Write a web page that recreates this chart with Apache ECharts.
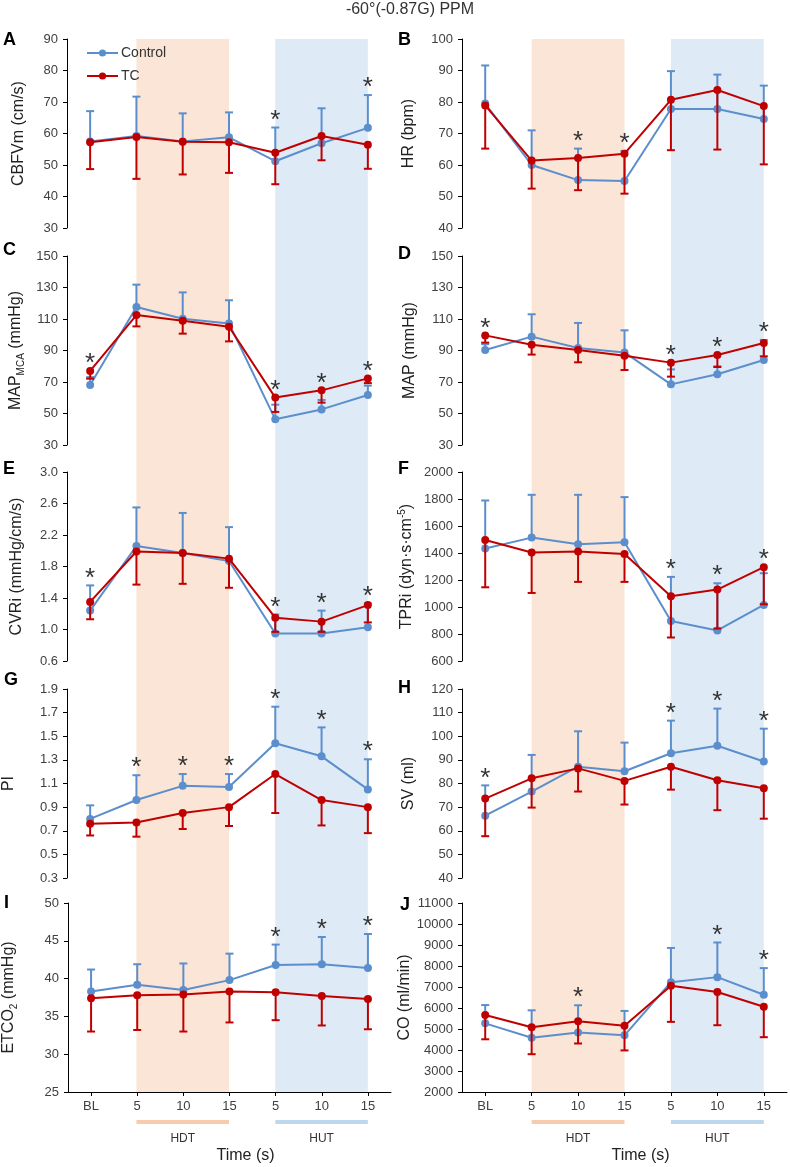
<!DOCTYPE html>
<html><head><meta charset="utf-8">
<script src="https://cdn.jsdelivr.net/npm/echarts@6/dist/echarts.min.js"></script>
<style>html,body{margin:0;padding:0;background:#fff}#c{width:790px;height:1167px}</style>
</head><body><div id="c"></div>
<script>
// ---------- DATA ----------
const timePoints = ['BL', 'HDT 5', 'HDT 10', 'HDT 15', 'HUT 5', 'HUT 10', 'HUT 15'];
const tickLabels = ['BL', '5', '10', '15', '5', '10', '15'];
const phaseNames = ['HDT', 'HUT'];
const phaseStart = ['HDT 5', 'HUT 5'];
const phaseEnd = ['HDT 15', 'HUT 15'];
const seriesNames = ['Control', 'TC'];

// A: CBFVm
const cbfvCtrl = [57.5, 59.2, 57.5, 58.8, 51.2, 56.9, 61.8];
const cbfvCtrlSD = [9.6, 12.5, 8.9, 7.9, 10.7, 11.1, 10.4];
const cbfvTC = [57.2, 58.9, 57.4, 57.2, 53.9, 59.2, 56.4];
const cbfvTCSD = [8.5, 13.3, 10.4, 9.7, 10.0, 7.7, 7.6];
const cbfvSig = [0, 0, 0, 0, 1, 0, 1];
// B: HR
const hrCtrl = [79.5, 60.0, 55.2, 54.9, 77.8, 77.8, 74.6];
const hrCtrlSD = [12.1, 11.0, 10.0, 9.6, 12.0, 10.9, 10.6];
const hrTC = [78.9, 61.4, 62.2, 63.6, 80.7, 83.8, 78.7];
const hrTCSD = [13.7, 8.9, 10.2, 12.7, 16.0, 18.9, 18.5];
const hrSig = [0, 0, 1, 1, 0, 0, 0];
// C: MAP MCA
const mapmcaCtrl = [68.1, 117.6, 110.2, 107.2, 46.3, 52.6, 61.7];
const mapmcaCtrlSD = [5.0, 14.2, 16.7, 14.7, 9.3, 6.0, 6.0];
const mapmcaTC = [77.0, 112.5, 108.9, 105.1, 60.1, 64.7, 72.3];
const mapmcaTCSD = [4.9, 7.2, 8.2, 9.3, 9.1, 7.8, 3.0];
const mapmcaSig = [1, 0, 0, 0, 1, 1, 1];
// D: MAP
const mapCtrl = [90.3, 98.8, 91.6, 88.8, 68.5, 74.9, 84.0];
const mapCtrlSD = [3.7, 14.2, 15.9, 14.0, 9.5, 5.1, 12.7];
const mapTC = [99.6, 93.7, 90.3, 86.7, 82.3, 87.1, 94.8];
const mapTCSD = [4.6, 6.3, 7.8, 9.1, 8.9, 7.6, 8.5];
const mapSig = [1, 0, 0, 0, 1, 1, 1];
// E: CVRi
const cvrCtrl = [1.24, 2.06, 1.97, 1.87, 0.95, 0.95, 1.03];
const cvrCtrlSD = [0.32, 0.49, 0.51, 0.43, 0.24, 0.29, 0.30];
const cvrTC = [1.35, 1.99, 1.97, 1.90, 1.15, 1.10, 1.31];
const cvrTCSD = [0.22, 0.42, 0.39, 0.37, 0.18, 0.13, 0.22];
const cvrSig = [1, 0, 0, 0, 1, 1, 1];
// F: TPRi
const tprCtrl = [1434, 1514, 1464, 1479, 896, 826, 1015];
const tprCtrlSD = [355, 317, 367, 335, 327, 350, 235];
const tprTC = [1496, 1404, 1412, 1392, 1079, 1129, 1295];
const tprTCSD = [350, 300, 226, 206, 305, 289, 275];
const tprSig = [0, 0, 0, 0, 1, 1, 1];
// G: PI
const piCtrl = [0.80, 0.96, 1.08, 1.07, 1.44, 1.33, 1.05];
const piCtrlSD = [0.115, 0.21, 0.10, 0.11, 0.31, 0.245, 0.255];
const piTC = [0.76, 0.77, 0.85, 0.90, 1.18, 0.96, 0.90];
const piTCSD = [0.10, 0.12, 0.135, 0.16, 0.33, 0.215, 0.22];
const piSig = [0, 1, 1, 1, 1, 1, 1];
// H: SV
const svCtrl = [66.4, 76.6, 87.1, 85.2, 92.8, 96.0, 89.3];
const svCtrlSD = [12.8, 15.5, 15.0, 12.1, 13.8, 15.7, 13.9];
const svTC = [73.6, 82.2, 86.4, 81.1, 87.1, 81.4, 78.0];
const svTCSD = [15.9, 12.4, 9.8, 10.0, 9.7, 12.7, 12.9];
const svSig = [1, 0, 0, 0, 1, 1, 1];
// I: ETCO2
const etco2Ctrl = [38.3, 39.2, 38.5, 39.8, 41.8, 41.9, 41.4];
const etco2CtrlSD = [2.9, 2.7, 3.5, 3.5, 2.7, 3.6, 4.5];
const etco2TC = [37.4, 37.8, 37.9, 38.3, 38.2, 37.7, 37.3];
const etco2TCSD = [4.4, 4.6, 4.9, 4.1, 3.7, 3.9, 4.0];
const etco2Sig = [0, 0, 0, 0, 1, 1, 1];
// J: CO
const coCtrl = [5270, 4580, 4830, 4700, 7230, 7470, 6630];
const coCtrlSD = [870, 1310, 1300, 1160, 1630, 1650, 1270];
const coTC = [5670, 5080, 5370, 5150, 7060, 6760, 6060];
const coTCSD = [1160, 1280, 1060, 1170, 1720, 1580, 1450];
const coSig = [0, 0, 1, 0, 0, 1, 1];

// y-axis ticks: [min, max, interval]
const panelLetters = ['A', 'B', 'C', 'D', 'E', 'F', 'G', 'H', 'I', 'J'];
const panelNames = [
  'CBFVm (cm/s)', 'HR (bpm)',
  '{t|MAP}{s|MCA}{t| (mmHg)}', 'MAP (mmHg)',
  'CVRi (mmHg/cm/s)', '{t|TPRi (dyn·s·cm}{p|-5}{t|)}',
  'PI', 'SV (ml)',
  '{t|ETCO}{s|2}{t| (mmHg)}', 'CO (ml/min)'
];
const yTicks = [
  [30, 90, 10], [40, 100, 10],
  [30, 150, 20], [30, 150, 20],
  [0.6, 3.0, 0.4], [600, 2000, 200],
  [0.3, 1.9, 0.2], [40, 120, 10],
  [25, 50, 5], [2000, 11000, 1000]
];
const yDecimals = [0, 0, 0, 0, 1, 0, 1, 0, 0, 0];

const panelData = [
  [cbfvCtrl, cbfvCtrlSD, cbfvTC, cbfvTCSD, cbfvSig],
  [hrCtrl, hrCtrlSD, hrTC, hrTCSD, hrSig],
  [mapmcaCtrl, mapmcaCtrlSD, mapmcaTC, mapmcaTCSD, mapmcaSig],
  [mapCtrl, mapCtrlSD, mapTC, mapTCSD, mapSig],
  [cvrCtrl, cvrCtrlSD, cvrTC, cvrTCSD, cvrSig],
  [tprCtrl, tprCtrlSD, tprTC, tprTCSD, tprSig],
  [piCtrl, piCtrlSD, piTC, piTCSD, piSig],
  [svCtrl, svCtrlSD, svTC, svTCSD, svSig],
  [etco2Ctrl, etco2CtrlSD, etco2TC, etco2TCSD, etco2Sig],
  [coCtrl, coCtrlSD, coTC, coTCSD, coSig]
];

// ---------- LAYOUT / STYLE ----------
const FONT = '"Liberation Sans", Arial, sans-serif';
const BLUE = '#5b8ecc';
const RED = '#c00000';
const BAND = ['#fbe5d6', '#deebf7'];
const BAR = ['#f8cbad', '#bdd7ee'];
const colLeft = [67, 462];
const colWidth = [324, 325];
const rowTops = [39, 256, 472, 689, 903];
const panelH = 189;
const nameGaps = [40, 45, 41, 44, 42, 45, 50, 45, 49, 47];
const letterPos = [[3, 40], [398, 40], [3, 250], [398, 254], [3, 469], [398, 469], [4, 680], [398, 688], [4, 903], [400, 905]];

const grids = [], xAxes = [], yAxes = [], series = [], graphics = [];

panelData.forEach((d, k) => {
  const col = k % 2, row = Math.floor(k / 2);
  const bottom = row === 4;
  grids.push({ left: colLeft[col], width: colWidth[col], top: rowTops[row], height: panelH });
  xAxes.push({
    type: 'category', gridIndex: k, data: timePoints, boundaryGap: true,
    show: bottom,
    axisLine: { show: bottom, lineStyle: { color: '#000', width: 1 } },
    axisTick: { show: bottom, alignWithLabel: true, length: 4, lineStyle: { color: '#000' } },
    axisLabel: { show: bottom, margin: 8, fontSize: 13, fontFamily: FONT, color: '#404040',
      formatter: (v, i) => tickLabels[i] },
    name: bottom ? 'Time (s)' : '', nameLocation: 'middle', nameGap: 56,
    nameTextStyle: { fontSize: 16, fontFamily: FONT, color: '#222', padding: [0, 0, 0, 32] }
  });
  const yt = yTicks[k];
  yAxes.push({
    type: 'value', gridIndex: k, min: yt[0], max: yt[1], interval: yt[2],
    axisLine: { show: true, lineStyle: { color: '#000', width: 1 } },
    axisTick: { show: true, length: 4, lineStyle: { color: '#000' } },
    splitLine: { show: false },
    axisLabel: { margin: 9, fontSize: 13, fontFamily: FONT, color: '#404040',
      formatter: v => Number(v).toFixed(yDecimals[k]) },
    name: panelNames[k], nameLocation: 'middle', nameGap: nameGaps[k],
    nameTextStyle: { fontSize: 16, fontFamily: FONT, color: '#222',
      rich: {
        t: { fontSize: 16, fontFamily: FONT, color: '#222', lineHeight: 20 },
        s: { fontSize: 10, fontFamily: FONT, color: '#222', lineHeight: 20, verticalAlign: 'bottom' },
        p: { fontSize: 10, fontFamily: FONT, color: '#222', lineHeight: 20, verticalAlign: 'top' }
      } }
  });

  const [ctrl, ctrlSD, tc, tcSD, sig] = d;
  const errSeries = (means, sds, dir, color, z) => ({
    type: 'custom', xAxisIndex: k, yAxisIndex: k, z: z, silent: true,
    data: means.map((m, i) => [i, m, m + dir * sds[i]]),
    renderItem: (params, api) => {
      const p0 = api.coord([api.value(0), api.value(1)]);
      const p1 = api.coord([api.value(0), api.value(2)]);
      const hw = 4;
      return { type: 'group', children: [
        { type: 'line', shape: { x1: p0[0], y1: p0[1], x2: p1[0], y2: p1[1] }, style: { stroke: color, lineWidth: 2 } },
        { type: 'line', shape: { x1: p1[0] - hw, y1: p1[1], x2: p1[0] + hw, y2: p1[1] }, style: { stroke: color, lineWidth: 2 } }
      ] };
    }
  });
  const lineSeries = (name, vals, color, z) => ({
    type: 'line', name: name, xAxisIndex: k, yAxisIndex: k, data: vals, z: z,
    symbol: 'circle', symbolSize: 8, showSymbol: true,
    lineStyle: { color: color, width: 2 }, itemStyle: { color: color },
    emphasis: { disabled: true }
  });
  series.push(errSeries(ctrl, ctrlSD, 1, BLUE, 3));
  series.push(lineSeries(seriesNames[0], ctrl, BLUE, 4));
  series.push(errSeries(tc, tcSD, -1, RED, 5));
  series.push(lineSeries(seriesNames[1], tc, RED, 6));
  // significance asterisks above the highest element at each time point
  const sigData = [];
  sig.forEach((s, i) => { if (s) sigData.push([i, Math.max(ctrl[i] + ctrlSD[i], tc[i], ctrl[i])]); });
  series.push({
    type: 'custom', xAxisIndex: k, yAxisIndex: k, z: 7, silent: true, data: sigData,
    renderItem: (params, api) => {
      const p = api.coord([api.value(0), api.value(1)]);
      return { type: 'text', x: p[0], y: p[1] - 7,
        style: { text: '*', fill: '#333', font: '26px ' + FONT, align: 'center', verticalAlign: 'middle' } };
    }
  });

  graphics.push({ type: 'text', x: letterPos[k][0], y: letterPos[k][1],
    style: { text: panelLetters[k], font: 'bold 18px ' + FONT, fill: '#000', verticalAlign: 'middle' } });
});

// Background phase bands (one tall grid per column) and phase bars below x axis
[0, 1].forEach(col => {
  const bandIdx = grids.length;
  grids.push({ left: colLeft[col], width: colWidth[col], top: rowTops[0], height: rowTops[4] + panelH - rowTops[0] });
  xAxes.push({ type: 'category', gridIndex: bandIdx, data: timePoints, boundaryGap: true, show: false });
  yAxes.push({ type: 'value', gridIndex: bandIdx, min: 0, max: 1, show: false });
  series.push({
    type: 'line', xAxisIndex: bandIdx, yAxisIndex: bandIdx, data: [], z: 0, silent: true,
    markArea: { silent: true, label: { show: false },
      data: phaseNames.map((n, j) => [{ xAxis: phaseStart[j], itemStyle: { color: BAND[j], opacity: 1 } }, { xAxis: phaseEnd[j] }]) }
  });
  const barIdx = grids.length;
  grids.push({ left: colLeft[col], width: colWidth[col], top: 1120, height: 4 });
  xAxes.push({ type: 'category', gridIndex: barIdx, data: timePoints, boundaryGap: true, show: false });
  yAxes.push({ type: 'value', gridIndex: barIdx, min: 0, max: 1, show: false });
  series.push({
    type: 'line', xAxisIndex: barIdx, yAxisIndex: barIdx, data: [], z: 0, silent: true,
    markArea: { silent: true,
      data: phaseNames.map((n, j) => [{ name: n, xAxis: phaseStart[j], itemStyle: { color: BAR[j], opacity: 1 },
        label: { show: true, position: 'bottom', distance: 9, color: '#333', fontSize: 12, fontFamily: FONT } },
        { xAxis: phaseEnd[j] }]) }
  });
});

graphics.push({ type: 'text', x: 410, y: 10,
  style: { text: '-60°(-0.87G) PPM', font: '16px ' + FONT, fill: '#333', align: 'center', verticalAlign: 'middle' } });

const chart = echarts.init(document.getElementById('c'), null, { renderer: 'canvas' });
chart.setOption({
  animation: false,
  backgroundColor: '#fff',
  grid: grids, xAxis: xAxes, yAxis: yAxes, series: series,
  legend: {
    data: seriesNames, orient: 'vertical', left: 86, top: 46, padding: 0,
    itemWidth: 31, itemHeight: 9, itemGap: 9,
    textStyle: { fontSize: 14, fontFamily: FONT, color: '#333', padding: [0, 0, 0, -2] },
    selectedMode: false
  },
  graphic: graphics
});
</script></body></html>
